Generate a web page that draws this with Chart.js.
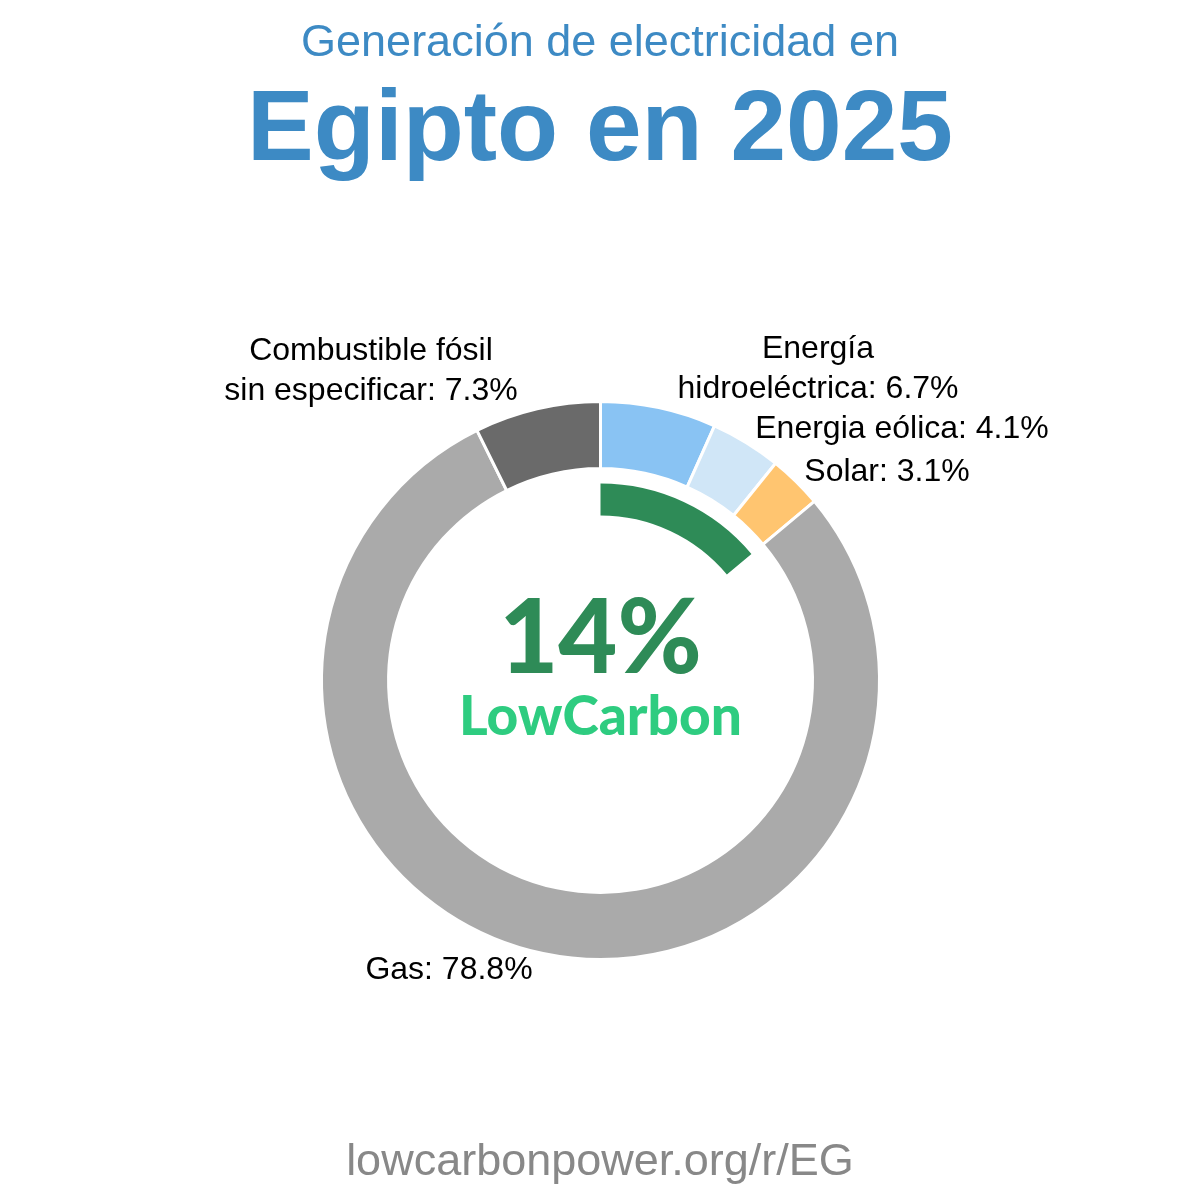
<!DOCTYPE html>
<html>
<head>
<meta charset="utf-8">
<script src="https://cdn.jsdelivr.net/npm/chart.js@4.4.1/dist/chart.umd.min.js"></script>
<style>
  html, body { margin: 0; padding: 0; background: #fff; }
  #wrap { position: relative; width: 1200px; height: 1200px; overflow: hidden; }
  canvas { position: absolute; left: 0; top: 0; }
  .t { position: absolute; white-space: nowrap; transform: translate(-50%, 0); text-align: center; font-family: "Liberation Sans", Arial, sans-serif; }
  .lbl { font-size: 32px; color: #000; line-height: 40px; }
</style>
</head>
<body>
<div id="wrap">
  <canvas id="c" width="1200" height="1200"></canvas>
  <div class="t" style="left:600px; top:15px; font-size:45px; color:#3d8ac4;">Generación de electricidad en</div>
  <div class="t" style="left:600px; top:68px; font-size:100px; font-weight:bold; color:#3d8ac4;">Egipto en 2025</div>
  <div class="t lbl" style="left:371px; top:329px;">Combustible fósil<br>sin especificar: 7.3%</div>
  <div class="t lbl" style="left:818px; top:327px;">Energía<br>hidroeléctrica: 6.7%</div>
  <div class="t lbl" style="left:902px; top:407px;">Energia eólica: 4.1%</div>
  <div class="t lbl" style="left:887px; top:450px;">Solar: 3.1%</div>
  <div class="t lbl" style="left:449px; top:948px;">Gas: 78.8%</div>
  <div class="t" style="left:600px; top:1134px; font-size:45px; color:#888;">lowcarbonpower.org/r/EG</div>
</div>
<script>
const categories = ["Energía hidroeléctrica", "Energia eólica", "Solar", "Gas", "Combustible fósil sin especificar"];
const shares = [6.7, 4.1, 3.1, 78.8, 7.3];
const colors = ["#89c3f3", "#d0e6f7", "#ffc570", "#aaaaaa", "#6a6a6a"];
const lowCarbonShare = 13.9;
const lowCarbonLabel = "14%";

const centerText = {
  id: 'centerText',
  afterDraw(chart) {
    const ctx = chart.ctx;
    const meta = chart.getDatasetMeta(0);
    const arc = meta.data[0];
    const cx = arc.x, cy = arc.y;
    ctx.save();
    ctx.textAlign = 'center';
    ctx.textBaseline = 'alphabetic';
    ctx.fillStyle = '#2e8b57';
    ctx.font = '900 102px Lato, "Open Sans", sans-serif';
    ctx.fillText(lowCarbonLabel, cx, cy - 8);
    ctx.fillStyle = '#2ecc80';
    ctx.font = '900 55px Lato, "Open Sans", sans-serif';
    ctx.fillText('LowCarbon', cx, cy + 54);
    ctx.restore();
  }
};

new Chart(document.getElementById('c'), {
  type: 'doughnut',
  data: {
    labels: categories,
    datasets: [
      { data: shares, backgroundColor: colors, borderColor: '#ffffff', borderWidth: 3, weight: 67 },
      { data: [100], backgroundColor: ['rgba(0,0,0,0)'], borderWidth: 0, weight: 15 },
      { data: [lowCarbonShare, 100 - lowCarbonShare], backgroundColor: ['#2e8b57', 'rgba(0,0,0,0)'], borderWidth: 0, weight: 32 }
    ]
  },
  options: {
    responsive: false,
    animation: false,
    cutout: '59.1%',
    layout: { padding: { left: 320, right: 319, top: 400, bottom: 239 } },
    plugins: { legend: { display: false }, tooltip: { enabled: false } },
    events: []
  },
  plugins: [centerText]
});
</script>
</body>
</html>
